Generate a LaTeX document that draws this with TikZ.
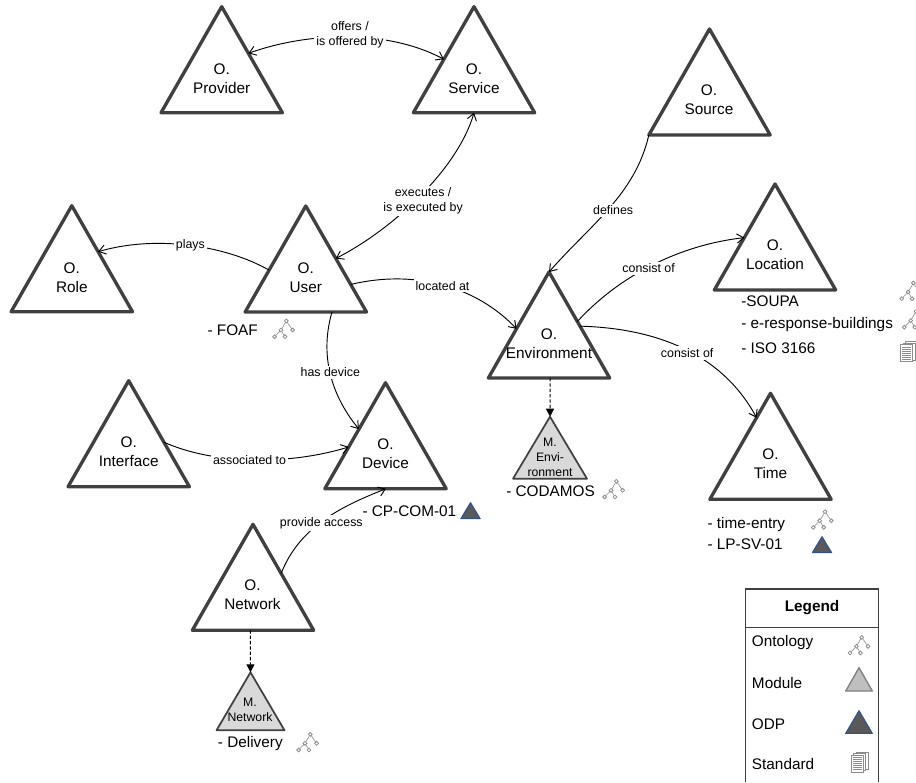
\documentclass[tikz,border=0pt]{standalone}
\usepackage{fontspec}
\setmainfont{Liberation Sans}
\usetikzlibrary{arrows.meta,calc,shapes.geometric}
\definecolor{edgegray}{HTML}{404040}
\definecolor{modfill}{HTML}{D9D9D9}
\definecolor{legmod}{HTML}{BFBFBF}
\definecolor{odpfill}{HTML}{595959}
\definecolor{odpline}{HTML}{2F528F}
\definecolor{icongray}{HTML}{8C8C8C}
\tikzset{
  x=0.75pt,y=-0.75pt,
  tribase/.style={shape=isosceles triangle,isosceles triangle stretches,shape border rotate=90,
    inner sep=0pt,outer sep=0pt,anchor=apex,line join=round,draw=edgegray},
  bigtri/.style={tribase,line width=2.5pt,minimum width=91pt,minimum height=79.5pt},
  envmod/.style={tribase,line width=1.3pt,fill=modfill,minimum width=55.5pt,minimum height=46.5pt},
  netmod/.style={tribase,line width=1.3pt,fill=modfill,minimum width=51pt,minimum height=43.5pt},
  legmodule/.style={tribase,line width=1pt,draw=gray,fill=legmod,minimum width=20pt,minimum height=17.5pt},
  odptri/.style={tribase,line width=.8pt,draw=odpline,fill=odpfill,minimum width=14.5pt,minimum height=12pt},
  legodp/.style={tribase,line width=.8pt,draw=odpline,fill=odpfill,minimum width=20pt,minimum height=17pt},
  tname/.style={align=center,inner sep=0pt,font=\fontsize{11.5}{14.25}\selectfont},
  mname/.style={align=center,inner sep=0pt,font=\fontsize{9.2}{11.25}\selectfont},
  note/.style={anchor=west,inner sep=0pt,font=\fontsize{11.5}{14}\selectfont},
  legtext/.style={anchor=west,inner sep=0pt,font=\fontsize{11.5}{14}\selectfont},
  conn/.style={line width=.7pt,black,>={Straight Barb[length=5pt,width=7pt]}},
  dashconn/.style={line width=.7pt,black,dashed,dash pattern=on 2.5pt off 1.5pt,-{Triangle[length=6pt,width=6pt]}},
  elabel/.style={fill=white,align=center,inner sep=1.5pt,text=black,font=\fontsize{9.3}{11.25}\selectfont},
  onto/.pic={
    \draw[icongray,line width=.45pt]
      (3,-8) -- (-2.3,1) -- (-8.7,7.7) (-2.3,1) -- (1.7,7.7) (3,-8) -- (9.3,1);
    \foreach \p in {(3,-8),(-2.3,1),(9.3,1),(-8.7,7.7),(1.7,7.7)}
      \draw[icongray,line width=.6pt,fill=white] \p circle (1.9);
  },
  docs/.pic={
    \foreach \d in {5,2.5,0}{
      \draw[icongray,line width=.5pt,fill=white] (-8+\d,-7.5-\d*.6) rectangle (4+\d,9.5-\d*.6);
    }
    \foreach \l in {-5,-3,-1,1,3,5,7}
      \draw[icongray,line width=.6pt] (-6.5,\l) -- (2.5,\l);
  }
}
\begin{document}
\begin{tikzpicture}
\useasboundingbox (0,0) rectangle (916,782);
% ontology triangles
\node[bigtri] (provider) at (221.7,6.7) {};
\node[bigtri] (service) at (474,6.7) {};
\node[bigtri] (source) at (709.5,29) {};
\node[bigtri] (location) at (775,184) {};
\node[bigtri] (role) at (71.8,205.7) {};
\node[bigtri] (user) at (305.8,206) {};
\node[bigtri] (env) at (549,272) {};
\node[bigtri] (interface) at (128.7,380.7) {};
\node[bigtri] (device) at (385.5,382.7) {};
\node[bigtri] (time) at (770.5,393.3) {};
\node[bigtri] (network) at (253,524.3) {};
\node[envmod] (menv) at (550,416.7) {};
\node[netmod] (mnet) at (250.5,672.3) {};
% triangle names
\node[tname] (tprovider) at (221.7,78.7) {O.\\Provider};
\node[tname] (tservice) at (474,78.7) {O.\\Service};
\node[tname] (tsource) at (709,100) {O.\\Source};
\node[tname] (tlocation) at (775,255) {O.\\Location};
\node[tname] (trole) at (71.8,277.5) {O.\\Role};
\node[tname] (tuser) at (305.8,277.5) {O.\\User};
\node[tname] (tenv) at (549,343.3) {O.\\Environment};
\node[tname] (tinterface) at (128.7,451.5) {O.\\Interface};
\node[tname] (tdevice) at (385.5,453.5) {O.\\Device};
\node[tname] (ttime) at (770.5,464) {O.\\Time};
\node[tname] (tnetwork) at (252.5,595) {O.\\Network};
\node[mname] (tmenv) at (550,457) {M.\\Envi-\\ronment};
\node[mname] (tmnet) at (250,710) {M.\\Network};
% connectors
\draw[conn,<->] ($(provider.apex)!.44!(provider.right corner)$) .. controls (305,33) and (385,28) .. node[elabel,pos=.5,xshift=3.5pt,yshift=1.5pt] (loffers) {offers /\\is offered by} ($(service.apex)!.496!(service.left corner)$);
\draw[conn,<->] ($(user.apex)!.495!(user.right corner)$) .. controls (395,228) and (458,168) .. node[elabel,pos=.5,xshift=1.5pt,yshift=-4.5pt] (lexec) {executes /\\is executed by} ($(service.left corner)!.5!(service.right corner)$);
\draw[conn,->] ($(user.apex)!.605!(user.left corner)$) .. controls (225,245) and (155,235) .. node[elabel,pos=.5,xshift=1.5pt] (lplays) {plays} ($(role.apex)!.434!(role.right corner)$);
\draw[conn,->] ($(user.apex)!.74!(user.right corner)$) .. controls (420,268) and (480,290) .. node[elabel,pos=.5,xshift=-2.5pt] (lloc) {located at} ($(env.apex)!.536!(env.left corner)$);
\draw[conn,->] ($(user.left corner)!.716!(user.right corner)$) .. controls (318,360) and (335,400) .. node[elabel,pos=.47,yshift=1.5pt] (lhas) {has device} ($(device.apex)!.438!(device.left corner)$);
\draw[conn,->] ($(interface.apex)!.58!(interface.right corner)$) .. controls (215,465) and (290,465) .. node[elabel,pos=.48] (lassoc) {associated to} ($(device.apex)!.606!(device.left corner)$);
\draw[conn,->] ($(network.apex)!.464!(network.right corner)$) .. controls (300,525) and (345,505) .. node[elabel,pos=.45,xshift=1.2pt] (lprov) {provide access} ($(device.left corner)!.504!(device.right corner)$);
\draw[conn,->] (source.left corner) .. controls (635,195) and (590,225) .. node[elabel,pos=.5,xshift=3pt,yshift=-1.5pt] (ldef) {defines} (env.apex);
\draw[conn,->] ($(env.apex)!.467!(env.right corner)$) .. controls (620,275) and (680,245) .. node[elabel,pos=.46,xshift=2pt] (lcons1) {consist of} ($(location.apex)!.506!(location.left corner)$);
\draw[conn,->] ($(env.apex)!.511!(env.right corner)$) .. controls (650,328) and (720,350) .. node[elabel,pos=.52,xshift=2pt,yshift=-3pt] (lcons2) {consist of} ($(time.apex)!.23!(time.left corner)$);
\draw[dashconn] ($(env.left corner)!.51!(env.right corner)$) -- (menv.apex);
\draw[dashconn] ($(network.left corner)!.478!(network.right corner)$) -- (mnet.apex);
% annotations
\node[note] (nfoaf) at (207.3,330) {- FOAF};
\pic at (283.3,329) {onto};
\node[note] (ncp) at (362.3,511) {- CP-COM-01};
\node[odptri] (icp) at (470.5,502.7) {};
\node[note] (ncod) at (506,491.7) {- CODAMOS};
\pic at (613.3,489.3) {onto};
\node[note] (ndel) at (217.7,744) {- Delivery};
\pic at (307.3,742.3) {onto};
\node[note] (nsoupa) at (741,301.7) {-SOUPA};
\pic at (910.4,291) {onto};
\node[note] (nresp) at (741,325) {- e-response-buildings};
\pic at (913,319.5) {onto};
\node[note] (niso) at (741,348.3) {- ISO 3166};
\pic at (908.5,352) {docs};
\node[note] (ntime) at (707.3,525) {- time-entry};
\pic at (822,519.7) {onto};
\node[note] (nlp) at (707.3,544) {- LP-SV-01};
\node[odptri] (ilp) at (822,536.7) {};
% legend
\draw[edgegray,line width=1pt] (745.3,782) -- (745.3,589) -- (878.3,589) -- (878.3,782);
\draw[edgegray,line width=1pt] (745.3,627.7) -- (878.3,627.7);
\node[legtext,anchor=center,font=\bfseries\fontsize{11.5}{14}\selectfont] (ltitle) at (812,607.7) {Legend};
\node[legtext] (lont) at (751.7,642.3) {Ontology};
\node[legtext] (lmod) at (751.7,682.7) {Module};
\node[legtext] (lodp) at (751.7,724) {ODP};
\node[legtext] (lstd) at (751.7,764.3) {Standard};
\pic at (858.7,645.3) {onto};
\node[legmodule] (imod) at (859,667.7) {};
\node[legodp] (iodp) at (859,710.7) {};
\pic at (859.3,762.5) {docs};
\end{tikzpicture}
\end{document}
